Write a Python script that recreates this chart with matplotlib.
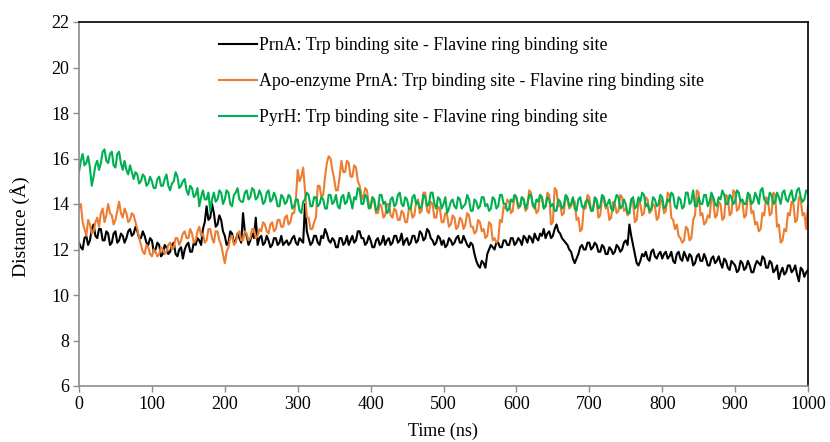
import numpy as np
import matplotlib
matplotlib.use("Agg")
import matplotlib.pyplot as plt

plt.rcParams["font.family"] = ["Liberation Serif", "DejaVu Serif"]

# Simulation time (ns), sampled every 2.5 ns
time_ns = [i * 2.5 for i in range(401)]

# Distance between Trp binding site and flavine ring binding site (Å)
prna = [
    12.3, 12.1, 12.0, 12.5, 12.6, 12.2, 12.4, 12.9, 13.1, 12.6,
    12.5, 12.9, 12.9, 12.4, 12.4, 12.8, 12.7, 12.2, 12.3, 12.7,
    12.8, 12.3, 12.4, 12.7, 12.6, 12.3, 12.5, 12.8, 12.9, 12.6,
    12.7, 13.0, 12.8, 12.5, 12.5, 12.8, 12.6, 12.3, 12.2, 12.5,
    12.4, 11.9, 12.0, 12.3, 12.2, 11.7, 11.8, 12.2, 12.1, 11.8,
    11.9, 12.2, 12.3, 11.8, 11.7, 12.0, 12.1, 11.6, 12.0, 12.2,
    12.3, 11.9, 11.9, 12.3, 12.2, 12.5, 12.4, 12.2, 12.9, 13.2,
    13.9, 13.3, 13.4, 14.0, 13.6, 13.0, 13.1, 13.5, 13.3, 12.8,
    12.6, 12.2, 12.3, 12.8, 12.7, 12.3, 12.4, 12.7, 12.5, 12.3,
    13.6, 12.8, 12.6, 12.2, 12.4, 12.7, 12.5, 13.4, 12.2, 12.5,
    12.6, 12.2, 12.3, 12.6, 12.4, 12.1, 12.2, 12.5, 12.5, 12.2,
    12.3, 12.6, 12.2, 12.3, 12.4, 12.2, 12.3, 12.5, 12.6, 12.3,
    12.2, 12.5, 12.4, 12.3, 14.0, 12.8, 12.5, 12.2, 12.3, 12.6,
    12.6, 12.3, 12.2, 12.6, 12.5, 12.9, 12.7, 12.4, 12.3, 12.5,
    12.4, 12.1, 12.1, 12.5, 12.5, 12.2, 12.3, 12.6, 12.2, 12.4,
    12.6, 12.3, 12.4, 12.8, 12.8, 12.5, 12.5, 12.2, 12.3, 12.6,
    12.4, 12.1, 12.1, 12.4, 12.5, 12.2, 12.3, 12.6, 12.2, 12.4,
    12.5, 12.2, 12.3, 12.6, 12.6, 12.3, 12.4, 12.7, 12.2, 12.4,
    12.5, 12.2, 12.3, 12.6, 12.6, 12.3, 12.4, 12.8, 12.7, 12.4,
    12.5, 12.9, 12.8, 12.5, 12.4, 12.2, 12.3, 12.6, 12.5, 12.2,
    12.4, 12.1, 12.2, 12.5, 12.4, 12.2, 12.3, 12.5, 12.6, 12.3,
    12.3, 12.6, 12.4, 12.2, 12.1, 12.3, 12.2, 11.8, 11.5, 11.3,
    11.2, 11.5, 11.4, 11.2, 11.8, 12.0, 12.2, 12.1, 12.0, 12.3,
    12.3, 12.1, 12.1, 12.4, 12.4, 12.2, 12.2, 12.5, 12.5, 12.2,
    12.3, 12.5, 12.4, 12.2, 12.6, 12.5, 12.3, 12.6, 12.5, 12.3,
    12.7, 12.5, 12.4, 12.7, 12.6, 12.9, 12.5, 12.7, 12.8, 12.5,
    12.6, 12.9, 13.1, 12.8, 12.7, 12.5, 12.4, 12.3, 12.2, 12.0,
    11.9, 11.6, 11.4, 11.6, 11.8, 12.1, 12.2, 12.0, 12.0, 12.3,
    12.3, 12.0, 12.1, 12.3, 12.2, 11.9, 11.9, 12.2, 12.1, 11.8,
    11.8, 12.1, 12.0, 11.8, 11.9, 12.2, 12.1, 11.9, 12.0, 12.3,
    12.4, 12.2, 13.1, 12.6, 12.2, 11.8, 11.4, 11.3, 11.5, 11.8,
    11.7, 11.9, 11.6, 11.5, 11.9, 12.0, 11.7, 11.6, 11.8, 11.9,
    11.6, 11.8, 11.9, 11.6, 11.7, 11.9, 11.5, 11.4, 11.8, 11.9,
    11.6, 11.5, 11.9, 11.7, 11.5, 11.8, 11.7, 11.3, 11.4, 11.7,
    11.8, 11.5, 11.5, 11.8, 11.6, 11.3, 11.3, 11.6, 11.7, 11.4,
    11.5, 11.7, 11.4, 11.2, 11.6, 11.5, 11.2, 11.1, 11.5, 11.4,
    11.3, 11.0, 11.1, 11.5, 11.4, 11.1, 11.2, 11.5, 11.3, 11.0,
    11.0, 11.3, 11.5, 11.4, 11.3, 11.7, 11.6, 11.2, 11.2, 11.5,
    11.4, 11.0, 11.1, 11.3, 10.7, 11.0, 11.2, 10.9, 11.0, 11.3,
    11.3, 11.0, 11.1, 11.3, 10.9, 10.6, 11.2, 11.1, 10.8, 11.0,
    11.1,
]

apo_prna = [
    13.8, 14.0, 13.2, 12.9, 12.6, 13.3, 13.1, 12.7, 12.8, 13.2,
    13.4, 13.0, 13.6, 13.8, 13.2, 13.5, 14.0, 13.6, 13.5, 13.1,
    13.3, 13.7, 14.1, 13.6, 13.4, 13.8, 13.6, 13.2, 13.3, 13.6,
    13.5, 13.2, 12.9, 12.5, 12.2, 11.9, 11.8, 12.2, 12.1, 11.8,
    11.7, 12.0, 11.9, 11.7, 11.8, 12.1, 12.0, 11.8, 11.9, 12.2,
    12.3, 12.0, 12.1, 12.5, 12.5, 12.2, 12.4, 12.7, 12.8, 12.5,
    12.5, 12.9, 12.7, 12.3, 12.4, 12.8, 13.0, 12.6, 12.7, 12.3,
    12.4, 12.9, 12.9, 12.5, 12.3, 12.8, 12.8, 12.4, 12.2, 11.8,
    11.4, 11.9, 12.1, 12.5, 12.6, 12.2, 12.3, 12.7, 12.8, 12.4,
    12.4, 12.8, 12.7, 12.4, 12.5, 12.9, 12.9, 12.5, 12.6, 12.9,
    12.8, 13.2, 13.1, 12.8, 12.7, 13.1, 13.2, 12.8, 12.9, 13.3,
    13.3, 13.0, 13.0, 13.4, 13.5, 13.1, 13.2, 13.6, 13.6, 14.2,
    15.5, 15.0, 15.2, 15.6, 14.6, 13.4, 13.4, 12.9, 12.9, 13.2,
    13.4, 14.8, 14.8, 14.3, 14.4, 15.2, 15.8, 16.1, 16.0, 15.5,
    15.1, 14.6, 14.6, 15.2, 15.9, 15.4, 15.4, 15.9, 15.8, 15.2,
    15.2, 15.7, 15.6, 15.0, 14.8, 14.4, 14.2, 14.7, 14.6, 14.0,
    13.8, 14.3, 14.1, 13.6, 13.6, 14.0, 13.9, 13.4, 13.5, 14.0,
    14.0, 13.5, 13.4, 13.8, 13.7, 13.3, 13.3, 13.7, 13.6, 13.2,
    13.2, 13.8, 13.8, 13.4, 13.5, 14.1, 14.2, 13.6, 13.7, 14.5,
    14.5, 13.7, 13.6, 14.1, 14.0, 13.4, 13.4, 13.9, 13.8, 13.2,
    13.2, 13.6, 13.5, 13.0, 13.1, 13.5, 13.4, 12.9, 13.0, 13.4,
    13.3, 12.9, 13.1, 13.6, 13.5, 13.0, 13.0, 12.7, 12.8, 13.3,
    13.2, 12.8, 12.9, 12.5, 12.6, 13.2, 13.1, 12.4, 12.5, 12.3,
    12.4, 13.3, 13.2, 13.9, 13.8, 14.2, 14.1, 13.6, 13.7, 14.4,
    14.3, 13.8, 13.9, 14.3, 14.2, 13.7, 13.8, 14.6, 14.5, 13.9,
    14.0, 13.6, 13.7, 14.4, 14.3, 13.8, 13.9, 14.5, 14.4, 13.1,
    13.2, 14.7, 14.6, 13.9, 14.0, 13.5, 13.6, 14.3, 14.2, 13.8,
    13.9, 14.2, 14.1, 13.3, 13.4, 12.8, 12.9, 13.9, 13.8, 14.4,
    14.3, 13.7, 13.8, 14.2, 14.1, 13.4, 13.5, 14.3, 14.2, 13.8,
    13.9, 13.3, 13.4, 14.1, 14.0, 13.6, 13.7, 14.4, 14.3, 13.7,
    13.8, 13.5, 13.6, 14.2, 14.1, 13.2, 13.3, 14.1, 14.0, 13.5,
    13.6, 14.3, 14.2, 13.6, 13.7, 14.0, 13.9, 13.3, 13.4, 14.2,
    14.1, 13.6, 13.7, 14.5, 14.4, 13.4, 13.3, 12.9, 13.1, 12.6,
    12.5, 12.3, 12.4, 13.0, 12.9, 12.4, 12.5, 13.3, 13.5, 14.6,
    14.5, 13.5, 13.6, 13.1, 13.2, 13.5, 13.4, 14.3, 14.2, 13.4,
    13.5, 14.1, 14.0, 13.3, 13.4, 14.4, 14.3, 13.5, 13.6, 14.6,
    14.5, 13.7, 13.8, 14.2, 14.1, 13.4, 13.5, 14.4, 14.3, 13.6,
    13.7, 13.1, 13.2, 12.8, 12.9, 13.6, 13.5, 14.3, 14.2, 13.5,
    13.6, 14.5, 14.4, 13.0, 13.1, 12.3, 12.4, 12.9, 12.8, 13.6,
    13.5, 14.1, 14.0, 13.2, 13.3, 14.3, 14.2, 13.5, 13.6, 12.9,
    13.9,
]

pyrh = [
    15.4, 15.9, 16.2, 15.7, 15.8, 16.1, 15.6, 14.8, 15.2, 15.7,
    15.9, 15.5, 15.8, 16.3, 16.4, 15.9, 15.8, 16.2, 16.3, 15.7,
    15.6, 16.2, 16.3, 15.8, 15.5, 15.9, 15.5, 15.3, 15.7, 15.4,
    15.1, 15.4, 15.3, 14.9, 15.0, 15.3, 15.2, 14.8, 14.9, 15.2,
    15.0, 14.7, 14.7, 15.1, 15.2, 14.8, 14.8, 15.1, 15.3, 14.8,
    14.6, 14.9, 15.0, 15.4, 15.2, 14.7, 14.8, 15.0, 15.1, 14.6,
    14.4, 14.8, 14.7, 14.3, 14.4, 14.7, 13.9, 14.3, 14.6, 14.2,
    14.2, 14.5, 13.7, 14.2, 14.5, 14.1, 14.2, 14.6, 14.5, 14.0,
    14.2, 14.6, 14.5, 14.0, 13.9, 14.4, 14.5, 14.7, 14.2, 14.1,
    14.1, 14.5, 14.6, 14.2, 14.3, 14.7, 14.6, 14.2, 14.3, 14.6,
    14.4, 14.0, 14.1, 14.5, 14.6, 14.1, 14.2, 14.5, 14.3, 13.9,
    13.9, 14.4, 14.3, 14.0, 14.1, 14.4, 14.3, 13.8, 13.9, 14.2,
    14.2, 13.7, 13.6, 14.1, 14.2, 14.5, 14.4, 13.9, 13.9, 14.3,
    14.3, 13.9, 14.0, 14.3, 14.2, 13.8, 13.8, 14.4, 14.4, 14.0,
    14.1, 14.4, 13.9, 13.8, 14.3, 14.4, 14.0, 14.1, 14.5, 14.2,
    13.8, 14.3, 14.2, 14.7, 14.6, 14.0, 14.0, 14.4, 14.3, 13.8,
    13.9, 14.3, 14.2, 13.7, 13.8, 14.4, 14.4, 14.0, 14.1, 13.6,
    13.7, 14.2, 14.3, 13.9, 14.0, 14.4, 14.5, 14.0, 13.9, 14.3,
    14.2, 13.8, 13.8, 14.3, 14.4, 14.0, 14.1, 13.8, 13.9, 14.4,
    14.3, 13.9, 14.0, 14.5, 14.5, 14.0, 13.8, 14.3, 14.2, 13.8,
    14.0, 14.3, 13.6, 13.8, 14.1, 14.2, 13.9, 13.8, 14.3, 14.2,
    13.8, 13.9, 14.0, 14.4, 14.2, 13.7, 13.7, 14.2, 14.1, 13.8,
    13.9, 14.3, 14.3, 13.9, 14.0, 13.7, 13.8, 14.3, 14.2, 13.8,
    13.9, 14.4, 14.4, 14.0, 14.0, 13.7, 13.8, 14.2, 14.1, 14.4,
    14.3, 13.9, 13.9, 14.3, 14.2, 13.8, 14.0, 14.4, 14.4, 14.0,
    13.8, 14.2, 14.1, 14.4, 14.3, 13.8, 13.9, 14.3, 14.2, 13.9,
    14.0, 13.7, 13.7, 14.2, 14.1, 13.8, 13.9, 14.4, 14.3, 13.9,
    14.0, 14.3, 13.8, 13.7, 14.2, 14.3, 13.9, 13.8, 14.1, 14.2,
    14.0, 13.7, 13.7, 14.3, 14.2, 13.8, 13.9, 14.4, 14.3, 13.9,
    14.0, 14.2, 13.8, 13.7, 14.1, 14.4, 14.3, 13.8, 13.9, 14.2,
    14.0, 13.6, 13.6, 14.2, 14.3, 13.8, 13.9, 14.3, 14.1, 14.5,
    14.4, 13.9, 14.0, 13.7, 13.8, 14.3, 14.2, 13.9, 14.0, 14.4,
    14.3, 13.8, 13.9, 14.2, 14.1, 14.5, 14.4, 13.9, 13.8, 14.3,
    14.2, 13.8, 13.9, 14.5, 14.5, 14.0, 14.1, 14.6, 13.9, 13.9,
    14.3, 14.0, 14.0, 14.4, 14.4, 13.9, 14.1, 14.5, 14.3, 14.0,
    13.9, 14.3, 14.2, 14.6, 14.4, 14.0, 14.0, 14.4, 14.3, 14.0,
    14.1, 14.6, 14.5, 14.1, 14.2, 14.0, 14.0, 14.5, 14.4, 14.0,
    14.1, 14.5, 14.3, 14.0, 14.6, 14.7, 14.2, 14.1, 14.0, 14.5,
    14.4, 14.0, 14.1, 14.5, 14.3, 14.0, 14.5, 14.6, 14.2, 14.1,
    14.4, 14.6, 14.1, 14.2, 14.6, 14.7, 14.3, 14.1, 14.2, 14.6,
    14.5,
]

series_labels = [
    "PrnA: Trp binding site - Flavine ring binding site",
    "Apo-enzyme PrnA: Trp binding site - Flavine ring binding site",
    "PyrH: Trp binding site - Flavine ring binding site",
]
series_colors = ["#000000", "#ED7D31", "#00B050"]

x_ticks = list(range(0, 1001, 100))
y_ticks = list(range(6, 23, 2))

W, H = 830, 442
fig = plt.figure(figsize=(W / 100, H / 100), dpi=100)
ax = fig.add_axes([79 / W, 1 - 386 / H, (808 - 79) / W, (386 - 22) / H])

for values, label, color in zip([prna, apo_prna, pyrh], series_labels, series_colors):
    ax.plot(time_ns, values, color=color, lw=1.5, label=label)

ax.set_xlim(0, 1000)
ax.set_ylim(6, 22)
ax.set_xticks(x_ticks)
ax.set_yticks(y_ticks)
ax.tick_params(axis="both", direction="out", length=4, width=1.0, color="#8c8c8c",
               labelsize=13, pad=3)

for side in ("left", "bottom"):
    ax.spines[side].set_color("#8c8c8c")
    ax.spines[side].set_linewidth(1.2)
for side in ("top", "right"):
    ax.spines[side].set_color("#000000")
    ax.spines[side].set_linewidth(1.2)

ax.set_xlabel("Time (ns)", fontsize=13, va="center")
ax.xaxis.set_label_coords(443 / W, 1 - 431 / H, transform=fig.transFigure)
ax.set_ylabel("Distance (Å)", fontsize=14, va="center")
ax.yaxis.set_label_coords(20 / W, 1 - 227 / H, transform=fig.transFigure)

ax.legend(loc="upper left", bbox_to_anchor=(219 / W, 1 - 37 / H), bbox_transform=fig.transFigure,
          frameon=False, fontsize=12.8, handlelength=2.15, handletextpad=0.08,
          labelspacing=1.08, borderaxespad=0, borderpad=0)

fig.savefig("out.png", dpi=100)
